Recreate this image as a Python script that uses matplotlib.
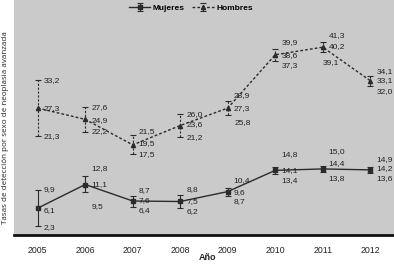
import matplotlib
matplotlib.use('Agg')
import numpy as np
import matplotlib.pyplot as plt

# data
years = [2005, 2006, 2007, 2008, 2009, 2010, 2011, 2012]

muj_mean = [6.1, 11.1, 7.6, 7.5, 9.6, 14.1, 14.4, 14.2]
muj_low = [2.3, 9.5, 6.4, 6.2, 8.7, 13.4, 13.8, 13.6]
muj_high = [9.9, 12.8, 8.7, 8.8, 10.4, 14.8, 15.0, 14.9]

hom_mean = [27.3, 24.9, 19.5, 23.6, 27.3, 38.6, 40.2, 33.1]
hom_low = [21.3, 22.2, 17.5, 21.2, 25.8, 37.3, 39.1, 32.0]
hom_high = [33.2, 27.6, 21.5, 26.0, 28.9, 39.9, 41.3, 34.1]

# label nudges in pixels (upper, mean, lower), measured from the mean point
muj_dy = [(-19, 2, 19), (-16, 0, 22), (-10, 0, 10), (-12, 0, 10),
          (-11, 1, 10), (-16, 0, 10), (-17, -5, 10), (-10, -1, 9)]
hom_dy = [(-28, 0, 28), (-12, 1, 12), (-13, -1, 10), (-11, -1, 12),
          (-13, 0, 14), (-12, 1, 11), (-12, -1, 15), (-9, 0, 11)]
hom_dx_low = [6, 6, 6, 6, 7, 6, 0, 6]

plt.rcParams['font.family'] = ['Liberation Sans', 'DejaVu Sans']

fig = plt.figure(figsize=(3.94, 2.68), dpi=100)
ax = fig.add_axes([14 / 394, 33 / 268, 380 / 394, 235 / 268])
ax.set_facecolor('#cacaca')

def fmt(v):
    return f"{v:.1f}".replace('.', ',')

def draw_series(mean, low, high, ls, marker, label, bar_ls):
    mean = np.array(mean)
    err = [mean - np.array(low), np.array(high) - mean]
    line, caps, bars = ax.errorbar(years, mean, yerr=err, color='#2b2b2b',
                                   ls=ls, lw=1.0, marker=marker, ms=3,
                                   capsize=2.5, elinewidth=0.8,
                                   capthick=0.8, label=label)
    bars[0].set_linestyle(bar_ls)

draw_series(muj_mean, muj_low, muj_high, '-', 's', 'Mujeres', '-')
draw_series(hom_mean, hom_low, hom_high, (0, (2, 1.5)), '^', 'Hombres', (0, (2, 1.5)))

def add_labels(mean, low, high, dys, dx_low):
    for i, yr in enumerate(years):
        vals = (high[i], mean[i], low[i])
        for j, v in enumerate(vals):
            dx = dx_low[i] if j == 2 else 6
            ax.annotate(fmt(v), (yr, mean[i]), xytext=(dx, -dys[i][j]),
                        textcoords='offset pixels', ha='left', va='center',
                        fontsize=6, color='#222222')

add_labels(muj_mean, muj_low, muj_high, muj_dy, [6] * 8)
add_labels(hom_mean, hom_low, hom_high, hom_dy, hom_dx_low)

ax.set_xlim(2004.5, 2012.5)
ax.set_ylim(0.4, 50.2)
ax.set_xticks(years)
ax.set_xticklabels([str(y) for y in years], fontsize=6.3, color='#222222')
ax.set_yticks([])
ax.tick_params(axis='x', length=0, pad=8)
for s in ['left', 'right', 'top']:
    ax.spines[s].set_visible(False)
ax.spines['bottom'].set_linewidth(2)
ax.spines['bottom'].set_color('#111111')

# legend centred around x=191 px in the figure
leg = ax.legend(loc='center', bbox_to_anchor=((191 - 14) / 380, 1 - 8 / 235), ncol=2,
                frameon=False, handlelength=2.6, handletextpad=0.3,
                columnspacing=0.9, prop={'weight': 'bold', 'size': 6})

fig.text(208 / 394, 1 - 258 / 268, 'Año', ha='center', va='center',
         fontsize=6.5, fontweight='bold', color='#222222')
fig.text(6 / 394, 1 - 128 / 268, 'Tasas de detección por sexo de neoplasia avanzada',
         rotation=90, ha='center', va='center', fontsize=5.8, color='#222222',
         family=['Open Sans', 'DejaVu Sans'])

fig.savefig('out.png', dpi=100)
